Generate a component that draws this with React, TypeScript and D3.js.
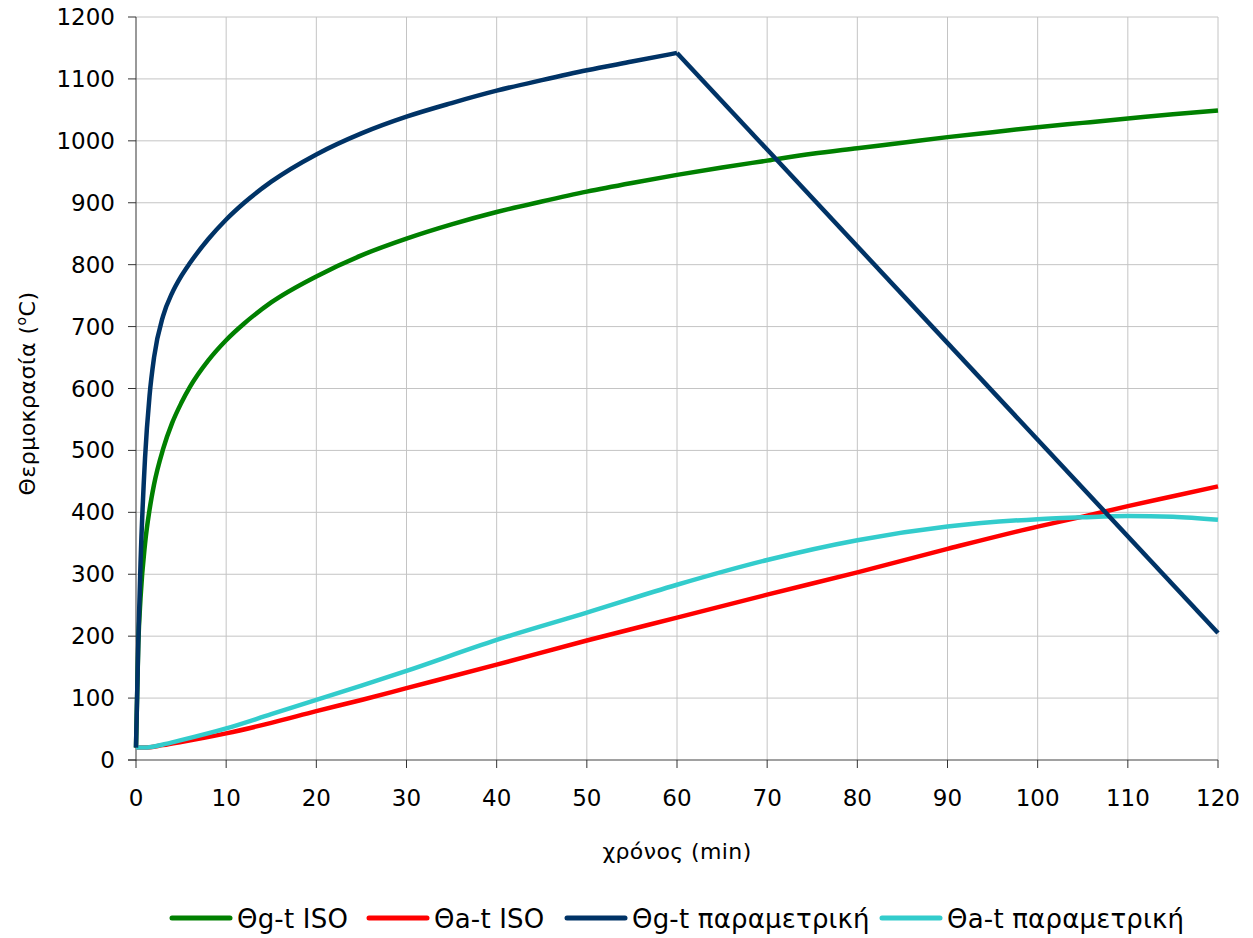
import React from "react";
import * as d3 from "d3";

// time (min) samples for gas curves
const gasTimes = [0, 0.25, 0.5, 1, 1.5, 2, 3, 4, 5, 6, 8, 10, 12, 15, 20, 25, 30, 35, 40, 45, 50, 55, 60, 65, 70, 75, 80, 85, 90, 95, 100, 105, 110, 115, 120];
const isoGas = [20, 185, 261, 349, 404, 445, 502, 544, 576, 603, 645, 678, 705, 739, 781, 815, 842, 865, 885, 902, 918, 932, 945, 957, 968, 979, 988, 997, 1006, 1014, 1022, 1029, 1036, 1043, 1049];

const paramTimes = [0, 0.25, 0.5, 1, 1.5, 2, 3, 4, 5, 6, 8, 10, 12, 15, 20, 25, 30, 35, 40, 45, 50, 55, 60, 120];
const paramGas = [20, 189, 317, 487, 588, 650, 717, 754, 781, 803, 841, 873, 900, 934, 978, 1012, 1039, 1061, 1081, 1098, 1114, 1128, 1142, 205];

const steelTimes = [0, 1, 3, 5, 10, 15, 20, 25, 30, 40, 50, 60, 70, 80, 90, 100, 105, 110, 115, 120];
const isoSteel = [20, 20, 24, 29, 43, 60, 79, 97, 116, 154, 193, 230, 267, 303, 341, 377, 393, 410, 426, 442];
const paramSteel = [20, 20, 25, 32, 51, 74, 97, 120, 144, 194, 238, 283, 323, 355, 377, 389, 392, 394, 393, 388];

const xTicks = [0, 10, 20, 30, 40, 50, 60, 70, 80, 90, 100, 110, 120];
const yTicks = [0, 100, 200, 300, 400, 500, 600, 700, 800, 900, 1000, 1100, 1200];

const seriesNames = ["Θg-t ISO", "Θa-t ISO", "Θg-t παραμετρική", "Θa-t παραμετρική"];
const seriesColors = ["#008000", "#ff0000", "#003366", "#33cccc"];

const W = 1253;
const H = 938;
const FONT = "'DejaVu Sans', Verdana, sans-serif";

export default function App() {
  const x = d3.scaleLinear().domain([0, 120]).range([136, 1218]);
  const y = d3.scaleLinear().domain([0, 1200]).range([760, 17]);

  const smooth = d3
    .line<[number, number]>()
    .x((d) => x(d[0]))
    .y((d) => y(d[1]))
    .curve(d3.curveMonotoneX);
  const straight = d3
    .line<[number, number]>()
    .x((d) => x(d[0]))
    .y((d) => y(d[1]));

  const zip = (a: number[], b: number[]) => a.map((t, i) => [t, b[i]] as [number, number]);

  const isoGasPts = zip(gasTimes, isoGas);
  const isoSteelPts = zip(steelTimes, isoSteel);
  const paramSteelPts = zip(steelTimes, paramSteel);
  const paramPts = zip(paramTimes, paramGas);
  const peak = paramGas.indexOf(d3.max(paramGas) as number);
  const heating = paramPts.slice(0, peak + 1);
  const cooling = paramPts.slice(peak);

  const sw = 4.5;

  const legendX = [172, 369, 567, 882];
  const legendY = 918;

  return (
    <svg
      width={W}
      height={H}
      style={{ position: "absolute", left: 0, top: 0, background: "#fff", fontFamily: FONT }}
    >
      <rect x={0} y={0} width={W} height={H} fill="#fff" />
      {/* grid */}
      {xTicks.slice(1).map((t) => (
        <line key={"gx" + t} x1={x(t)} x2={x(t)} y1={y(0)} y2={y(1200)} stroke="#c4c4c4" strokeWidth={1} />
      ))}
      {yTicks.slice(1).map((v) => (
        <line key={"gy" + v} x1={x(0)} x2={x(120)} y1={y(v)} y2={y(v)} stroke="#c4c4c4" strokeWidth={1} />
      ))}
      {/* axes */}
      <line x1={x(0)} x2={x(0)} y1={y(0) + 0.5} y2={y(1200)} stroke="#555" strokeWidth={1.2} />
      <line x1={x(0) - 8} x2={x(120)} y1={y(0)} y2={y(0)} stroke="#444" strokeWidth={1.2} />
      {yTicks.map((v) => (
        <g key={"yt" + v}>
          <line x1={x(0) - 8} x2={x(0)} y1={y(v)} y2={y(v)} stroke="#333" strokeWidth={1} />
          <text x={115} y={y(v)} dy="0.35em" textAnchor="end" fontSize={23} fill="#000">
            {v}
          </text>
        </g>
      ))}
      {xTicks.map((t) => (
        <g key={"xt" + t}>
          <line x1={x(t)} x2={x(t)} y1={y(0)} y2={y(0) + 8} stroke="#333" strokeWidth={1} />
          <text x={x(t)} y={806} textAnchor="middle" fontSize={23} fill="#000">
            {t}
          </text>
        </g>
      ))}
      {/* axis titles */}
      <text x={x(60)} y={859} textAnchor="middle" fontSize={22} letterSpacing={0.4} fill="#000">
        χρόνος (min)
      </text>
      <text
        transform={`translate(35, ${(y(0) + y(1200)) / 2 + 5}) rotate(-90)`}
        textAnchor="middle"
        fontSize={22}
        letterSpacing={0.5}
        fill="#000"
      >
        Θερμοκρασία (<tspan fontSize={14} dy="-9">o</tspan>
        <tspan dy="9">C)</tspan>
      </text>
      {/* series */}
      <path d={smooth(isoGasPts) || ""} fill="none" stroke={seriesColors[0]} strokeWidth={sw} strokeLinejoin="round" />
      <path d={smooth(isoSteelPts) || ""} fill="none" stroke={seriesColors[1]} strokeWidth={sw} strokeLinejoin="round" />
      <path d={smooth(paramSteelPts) || ""} fill="none" stroke={seriesColors[3]} strokeWidth={sw} strokeLinejoin="round" />
      <path d={smooth(heating) || ""} fill="none" stroke={seriesColors[2]} strokeWidth={sw} strokeLinejoin="round" />
      <path d={straight(cooling) || ""} fill="none" stroke={seriesColors[2]} strokeWidth={sw} strokeLinejoin="round" />
      {/* legend */}
      {seriesNames.map((name, i) => (
        <g key={"lg" + i}>
          <line
            x1={legendX[i]}
            x2={legendX[i] + 58}
            y1={legendY}
            y2={legendY}
            stroke={seriesColors[i]}
            strokeWidth={5}
            strokeLinecap="round"
          />
          <text x={legendX[i] + 65} y={928} fontSize={26} letterSpacing={0.2} fill="#000">
            {name}
          </text>
        </g>
      ))}
    </svg>
  );
}
